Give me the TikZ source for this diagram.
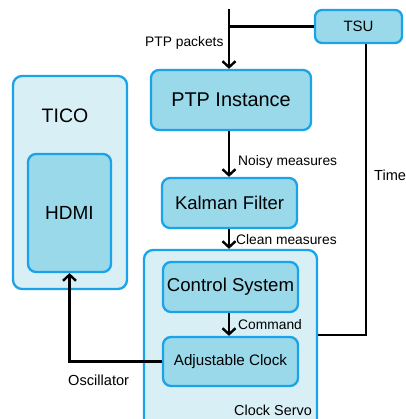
\documentclass[tikz,border=0pt]{standalone}
\usepackage{fontspec}
\setmainfont{Liberation Sans}
\usetikzlibrary{arrows.meta}
\definecolor{edgeblue}{HTML}{1AA3E8}
\definecolor{boxfill}{HTML}{99D9EA}
\definecolor{groupfill}{HTML}{D9EFF6}
\tikzset{
  block/.style={draw=edgeblue, line width=2.3pt, fill=boxfill, rounded corners=8pt,
    inner sep=0pt, align=center},
  group/.style={draw=edgeblue, line width=2.3pt, fill=groupfill, rounded corners=9pt,
    inner sep=0pt},
  link/.style={line width=2.6pt, black},
  flow/.style={link, -{Straight Barb[length=6pt,width=13pt,line width=2.4pt]}},
  lbl/.style={anchor=west, inner sep=0pt, font=\fontsize{13.8}{15}\selectfont}
}
\begin{document}
\begin{tikzpicture}[x=1pt,y=-1pt]
  \useasboundingbox (0,0) rectangle (405,419);
  \clip (0,0) rectangle (405,419);

  % containers
  \node[group, minimum width=114pt, minimum height=213pt] (tico) at (70,182.5) {};
  \node[group, minimum width=173pt, minimum height=178pt] (servo) at (230.5,339) {};

  % blocks
  \node[block, minimum width=160pt, minimum height=60pt, font=\fontsize{19.9}{22}\selectfont] (ptp) at (231,100) {PTP Instance};
  \node[block, minimum width=135pt, minimum height=50pt, font=\fontsize{18.5}{21}\selectfont] (kal) at (229.5,203) {Kalman Filter};
  \node[block, minimum width=135pt, minimum height=50pt, font=\fontsize{18.6}{21}\selectfont] (ctrl) at (230.5,287) {Control System};
  \node[block, minimum width=135pt, minimum height=49pt, font=\fontsize{15.2}{17}\selectfont] (adj) at (230.5,361.5) {Adjustable Clock};
  \node[block, minimum width=83pt, minimum height=118pt, font=\fontsize{19}{21}\selectfont] (hdmi) at (69.5,213) {HDMI};
  \node[block, minimum width=87pt, minimum height=33pt, rounded corners=7pt, font=\fontsize{15}{17}\selectfont] (tsu) at (358.5,26.5) {TSU};

  % container titles
  \node[font=\fontsize{19.5}{21}\selectfont, inner sep=0pt] (ticolbl) at (65,116) {TICO};
  \node[anchor=east, inner sep=0pt, font=\fontsize{14.4}{16}\selectfont] (servolbl) at (312,410) {Clock Servo};

  % main data path
  \coordinate (top) at (229,9);
  \coordinate (tbend) at (366,335);
  \draw[flow] (top) -- (ptp.north -| top);
  \draw[link] (tsu.west) -- (tsu.west -| top);
  \draw[flow] (ptp.south -| top) -- (kal.north -| top);
  \draw[flow] (kal.south -| top) -- (servo.north -| top);
  \draw[flow] (ctrl.south -| top) -- (adj.north -| top);
  \draw[link] (tbend -| servo.east) -- (tbend) -- (tsu.south -| tbend);
  \draw[flow] (adj.west) -| (hdmi.south);

  % connector labels
  \node[lbl] (lpkt) at (145,43) {PTP packets};
  \node[lbl] (lnoisy) at (238,161.5) {Noisy measures};
  \node[lbl] (lclean) at (236,240) {Clean measures};
  \node[lbl] (lcmd) at (238,324.5) {Command};
  \node[lbl, font=\fontsize{14.6}{16}\selectfont] (losc) at (68,380) {Oscillator};
  \node[lbl, font=\fontsize{14.6}{16}\selectfont] (ltime) at (374,175) {Time};
\end{tikzpicture}
\end{document}
